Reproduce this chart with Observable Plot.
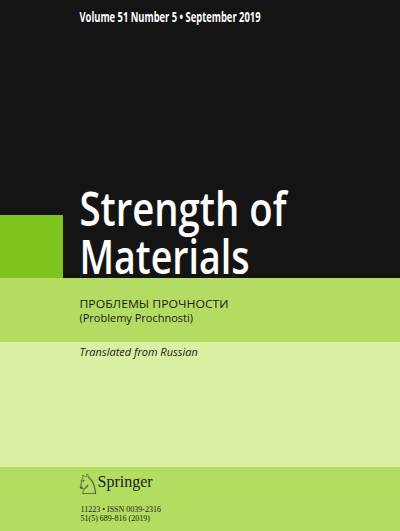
<!DOCTYPE html>
<html>
<head>
<meta charset="utf-8">
<script src="https://cdn.jsdelivr.net/npm/d3@7"></script>
<script src="https://cdn.jsdelivr.net/npm/@observablehq/plot@0.6"></script>
<style>
  html, body { margin: 0; padding: 0; background: #141414; }
  svg { display: block; }
</style>
</head>
<body>
<div id="chart"></div>
<script>
// Colour bands of the cover (x0, x1, y0, y1 in cover units)
const bandNames = ["top", "square", "band1", "band2", "bottom"];
const bandX0 = [0, 0, 0, 0, 0];
const bandX1 = [400, 63, 400, 400, 400];
const bandY0 = [0, 215, 278, 342, 467];
const bandY1 = [278, 278, 342, 467, 531];
const bandFill = ["#141414", "#7fc31c", "#b4dc63", "#d8f0a3", "#b2dd60"];

// Text items
const texts = ["Volume 51 Number 5 • September 2019", "Strength of", "Materials",
  "ПРОБЛЕМЫ ПРОЧНОСТИ", "(Problemy Prochnosti)", "Translated from Russian",
  "♘", "Springer", "11223 • ISSN 0039-2316", "51(5) 689-816 (2019)"];
const textX = [79, 79, 79, 79, 79, 79, 75, 97, 80, 80];
const textY = [21, 225, 273, 307, 321, 355, 493, 486, 511, 520];
const textSize = [15, 47, 47, 11.5, 11, 11, 28, 16, 8, 8];
const textLen = [181, 207, 170, 149, null, null, null, null, null, null];
const textColor = ["#ffffff", "#ffffff", "#ffffff", "#1a1a1a", "#1a1a1a", "#1a1a1a", "#1a1a1a", "#1a1a1a", "#1a1a1a", "#1a1a1a"];
const textFont = ["cond", "cond", "cond", "sans", "sans", "sans", "sym", "serif", "serif", "serif"];
const textWeight = ["bold", "600", "600", "normal", "normal", "normal", "normal", "normal", "normal", "normal"];
const textStyle = ["normal", "normal", "normal", "normal", "normal", "italic", "normal", "normal", "normal", "normal"];

const fonts = {
  cond: "'Open Sans', 'Noto Sans', sans-serif",
  sans: "'Open Sans', 'Noto Sans', sans-serif",
  sym: "'DejaVu Sans', sans-serif",
  serif: "'Liberation Serif', 'DejaVu Serif', serif"
};

const bands = bandNames.map((n, i) => ({n, x0: bandX0[i], x1: bandX1[i], y0: bandY0[i], y1: bandY1[i], fill: bandFill[i]}));
const items = texts.map((t, i) => ({t, x: textX[i], y: textY[i], size: textSize[i], len: textLen[i], color: textColor[i], font: fonts[textFont[i]], weight: textWeight[i], style: textStyle[i]}));

const textMarks = items.map(d => Plot.text([d], {
  x: "x", y: "y", text: "t", textAnchor: "start", lineAnchor: "bottom",
  fill: d.color, fontSize: d.size, fontFamily: d.font, fontWeight: d.weight, fontStyle: d.style
}));

const chart = Plot.plot({
  width: 400, height: 531,
  margin: 0,
  x: {domain: [0, 400], range: [0, 400], axis: null},
  y: {domain: [0, 531], range: [0, 531], axis: null},
  style: {background: "#141414"},
  marks: [
    Plot.rect(bands, {x1: "x0", x2: "x1", y1: "y0", y2: "y1", fill: d => d.fill, inset: 0}),
    ...textMarks
  ]
});
document.getElementById("chart").appendChild(chart);

// Compress condensed lines to their measured widths
d3.select(chart).selectAll("text").each(function() {
  const el = this;
  const item = items.find(d => d.len && d.t === el.textContent);
  if (item) {
    el.setAttribute("textLength", item.len);
    el.setAttribute("lengthAdjust", "spacingAndGlyphs");
  }
});
</script>
</body>
</html>
